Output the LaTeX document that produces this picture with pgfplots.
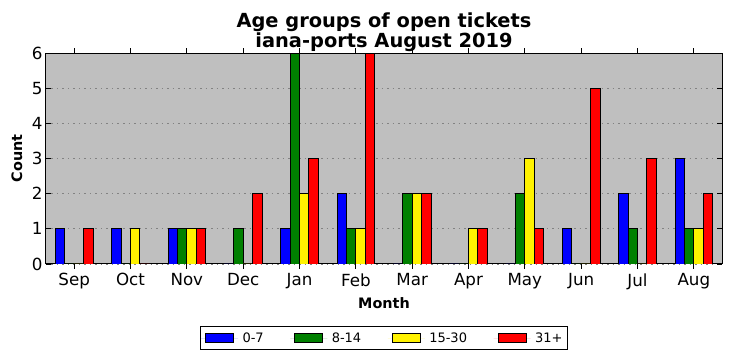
\documentclass[border=0pt]{standalone}
\usepackage{pgfplots}
\pgfplotsset{compat=1.18}
\usepackage{fontspec}
\setmainfont{DejaVu Sans}
\definecolor{bgsilver}{RGB}{191,191,191}
\definecolor{mplgreen}{RGB}{0,128,0}
\definecolor{gridgray}{RGB}{130,130,130}
\pgfplotstableread{
x a b c d
0 1 0 0 1
1 1 0 1 0
2 1 1 1 1
3 0 1 0 2
4 1 6 2 3
5 2 1 1 6
6 0 2 2 2
7 0 0 1 1
8 0 2 3 1
9 1 0 0 5
10 2 1 0 3
11 3 1 1 2
}\datatable
\begin{document}
\begin{tikzpicture}
\path[use as bounding box] (-46pt,-97pt) rectangle (686pt,264pt);
\begin{axis}[
  name=ax,
  at={(0pt,0pt)}, anchor=south west,
  scale only axis, width=676pt, height=211pt,
  xmin=-0.5, xmax=11.5, ymin=0, ymax=6,
  xtick={0,...,11},
  xticklabels={Sep,Oct,Nov,Dec,Jan,Feb,Mar,Apr,May,Jun,Jul,Aug},
  ytick={0,...,6},
  /pgf/number format/assume math mode=true,
  tick label style={font=\fontsize{16.7}{19}\selectfont},
  xticklabel style={yshift=-1pt},
  tick align=inside, major tick length=5pt,
  tick style={black, line width=0.8pt},
  axis line style={black, line width=1pt},
  axis background/.style={fill=bgsilver},
  ymajorgrids, major grid style={color=gridgray, dash pattern=on 1.5pt off 4pt, line width=0.7pt},
  ybar=0pt, bar width=0.1667,
  xlabel={Month}, ylabel={Count},
  label style={font=\bfseries\fontsize{14.4}{17}\selectfont},
  xlabel style={at={(axis description cs:0.5,-0.185)}, anchor=center},
  ylabel style={at={(axis description cs:-0.043,0.5)}, anchor=center},
  legend columns=4,
  legend style={at={(axis description cs:0.5,-0.294)}, anchor=north,
    draw=black, line width=0.8pt, fill=white,
    font=\fontsize{13}{15}\selectfont,
    inner xsep=0.5pt, inner ysep=3pt,
    nodes={inner xsep=4.5pt, inner ysep=3pt},
    /tikz/every even column/.append style={column sep=22pt}},
  legend image code/.code={\path[draw=none] (-4.5pt,0pt) -- (32.5pt,0pt);\draw[#1, line width=0.8pt] (0pt,-4.5pt) rectangle (28pt,4.5pt);},
  every axis plot/.append style={draw=black, line width=0.8pt},
]
\addplot[fill=blue] table[x=x,y=a] {\datatable};
\addplot[fill=mplgreen] table[x=x,y=b] {\datatable};
\addplot[fill=yellow] table[x=x,y=c] {\datatable};
\addplot[fill=red] table[x=x,y=d] {\datatable};
\legend{0-7,8-14,15-30,31+}
\end{axis}
\node[anchor=base, inner sep=0pt, font=\bfseries\fontsize{19.4}{22}\selectfont] at ([yshift=26pt]ax.north) {Age groups of open tickets};
\node[anchor=base, inner sep=0pt, font=\bfseries\fontsize{19.4}{22}\selectfont] at ([yshift=6pt]ax.north) {iana-ports August 2019};
\end{tikzpicture}
\end{document}
